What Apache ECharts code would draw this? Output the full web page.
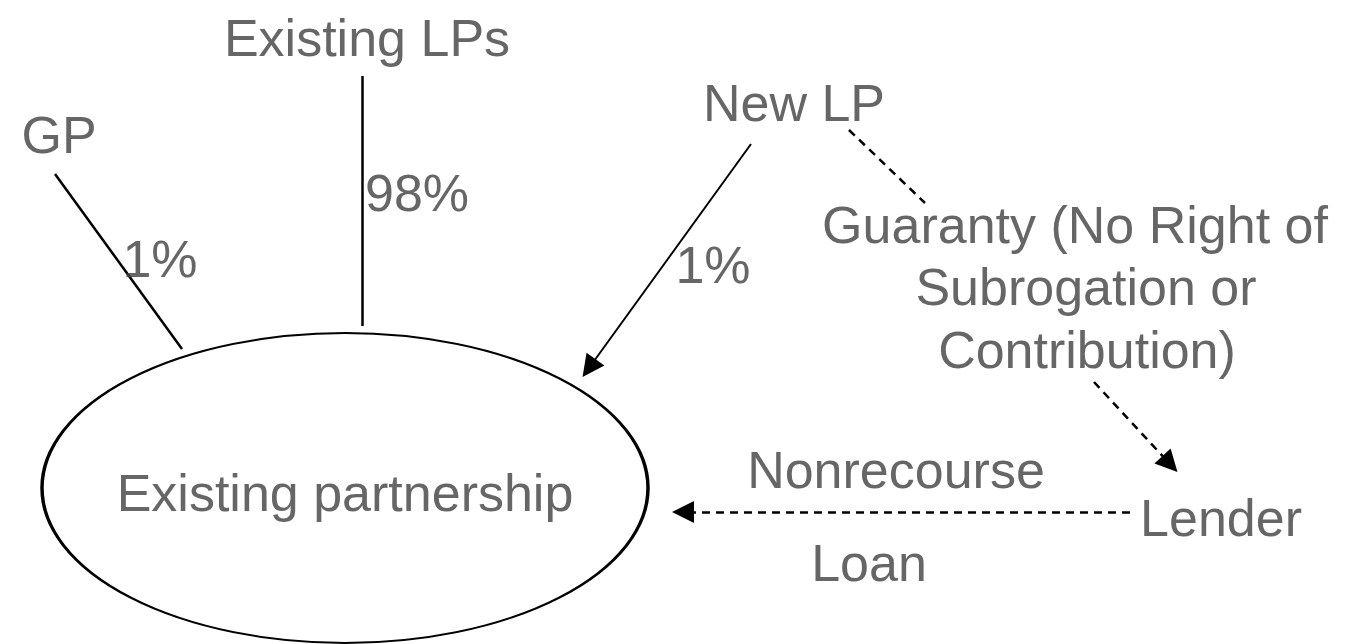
<!DOCTYPE html>
<html>
<head>
<meta charset="utf-8">
<title>Existing partnership</title>
<script src="https://cdn.jsdelivr.net/npm/echarts@6/dist/echarts.min.js"></script>
<style>
    html, body { margin: 0; padding: 0; background: #fff; }
    #chart { width: 1346px; height: 644px; }
</style>
</head>
<body>
<div id="chart"></div>
<script>
// diagram space: x 0..1346, y 0..644 (y grows downward)
var labels = [
    ['Existing LPs', 367, 38],
    ['GP', 59, 135],
    ['98%', 417, 193],
    ['1%', 160, 259],
    ['New LP', 794, 103],
    ['1%', 713, 265],
    ['Guaranty (No Right of', 1075, 225],
    ['Subrogation or', 1086, 287],
    ['Contribution)', 1087, 350],
    ['Nonrecourse', 896, 470],
    ['Lender', 1221, 518],
    ['Loan', 869, 563],
    ['Existing partnership', 345, 493]
];

// partnership ellipse: centre
var partnership = [345, 488];

// plain solid links
var solidLinks = [
    [[55, 174], [182, 349]],      // GP
    [[362, 76], [362, 326]]       // Existing LPs
];
// solid link with arrow
var solidArrows = [
    [[751, 144], [589, 368]]      // New LP -> partnership
];
// dashed links
var dashedLinks = [
    [[849, 130], [925, 203]]      // New LP -> guaranty text
];
var dashedArrows = [
    [[1094, 382], [1170, 464]],   // guaranty -> Lender
    [[1130, 512], [683, 512]]     // Lender -> partnership (loan)
];

var chart = echarts.init(document.getElementById('chart'));

function toLines(arr) {
    return arr.map(function (l) { return { coords: l }; });
}

var textColor = '#404040';

var option = {
    animation: false,
    grid: { left: 0, right: 0, top: 0, bottom: 0 },
    xAxis: { type: 'value', min: 0, max: 1346, show: false },
    yAxis: { type: 'value', min: 0, max: 644, inverse: true, show: false },
    series: [
        {
            type: 'scatter',
            silent: true,
            symbol: 'circle',
            symbolSize: [606, 310],
            itemStyle: { color: '#fff', borderColor: '#000', borderWidth: 2.5, opacity: 1 },
            data: [partnership],
            z: 1
        },
        {
            type: 'lines',
            coordinateSystem: 'cartesian2d',
            silent: true,
            symbol: ['none', 'none'],
            lineStyle: { color: '#000', width: 2.5, opacity: 1 },
            data: toLines(solidLinks),
            z: 2
        },
        {
            type: 'lines',
            coordinateSystem: 'cartesian2d',
            silent: true,
            symbol: ['none', 'triangle'],
            symbolSize: [17, 22],
            lineStyle: { color: '#000', width: 2, opacity: 1 },
            data: toLines(solidArrows),
            z: 2
        },
        {
            type: 'lines',
            coordinateSystem: 'cartesian2d',
            silent: true,
            symbol: ['none', 'none'],
            lineStyle: { color: '#000', width: 2.5, type: [8, 6], opacity: 1 },
            data: toLines(dashedLinks),
            z: 2
        },
        {
            type: 'lines',
            coordinateSystem: 'cartesian2d',
            silent: true,
            symbol: ['none', 'triangle'],
            symbolSize: [17, 22],
            lineStyle: { color: '#000', width: 2.5, type: [8, 6], opacity: 1 },
            data: toLines(dashedArrows),
            z: 2
        },
        {
            type: 'scatter',
            silent: true,
            symbolSize: 0,
            data: labels.map(function (l) {
                return { name: l[0], value: [l[1], l[2]] };
            }),
            label: {
                show: true,
                position: 'inside',
                offset: [0, 4],
                formatter: '{b}',
                color: textColor,
                fontFamily: 'Liberation Sans, Arial, sans-serif',
                fontSize: 52
            },
            z: 3
        }
    ]
};

chart.setOption(option);
window.addEventListener('resize', function () {
    chart.resize();
});
</script>
</body>
</html>
